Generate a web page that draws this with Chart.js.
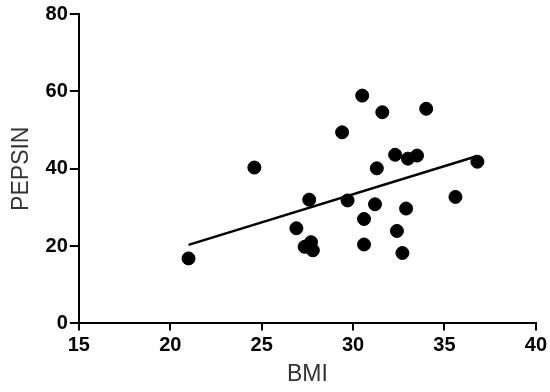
<!DOCTYPE html>
<html>
<head>
<meta charset="utf-8">
<script src="https://cdn.jsdelivr.net/npm/chart.js@4/dist/chart.umd.min.js"></script>
<style>
  html, body { margin: 0; padding: 0; background: #fff; }
  #wrap { width: 550px; height: 392px; }
</style>
</head>
<body>
<div id="wrap"><canvas id="c" width="550" height="392"></canvas></div>
<script>
// BMI vs PEPSIN
const bmi    = [21.0, 24.6, 26.9, 27.35, 27.7, 27.8, 27.6, 29.4, 29.7, 30.5, 30.6, 30.6, 31.2, 31.3, 31.6, 32.3, 32.4, 32.7, 32.9, 33.0, 33.5, 34.0, 35.6, 36.8];
const pepsin = [16.8, 40.3, 24.6, 19.8, 21.0, 18.9, 32.0, 49.4, 31.8, 58.9, 27.0, 20.4, 30.8, 40.1, 54.6, 43.6, 23.9, 18.2, 29.7, 42.6, 43.4, 55.5, 32.7, 41.8];
// regression line ends
const fitX = [21.0, 36.8];
const fitY = [20.3, 43.3];

const punkti = bmi.map((x, i) => ({ x: x, y: pepsin[i] }));
const premica = fitX.map((x, i) => ({ x: x, y: fitY[i] }));

const osFont = { family: 'Liberation Sans, Arial, sans-serif', size: 20, weight: 'bold' };
const naslovFont = { family: 'Liberation Sans, Arial, sans-serif', size: 23 };

new Chart(document.getElementById('c').getContext('2d'), {
    type: 'scatter',
    data: {
        datasets: [
            { data: punkti, backgroundColor: '#000', borderColor: '#000', pointRadius: 6.5, pointHoverRadius: 6.5 },
            { type: 'line', data: premica, showLine: true, borderColor: '#000', borderWidth: 2.5, pointRadius: 0, fill: false }
        ]
    },
    options: {
        responsive: false,
        animation: false,
        layout: { padding: { top: 8, right: 3, left: 8, bottom: 4 } },
        plugins: { legend: { display: false }, tooltip: { enabled: false } },
        scales: {
            x: {
                type: 'linear', min: 15, max: 40,
                ticks: { stepSize: 5, color: '#000', font: osFont, padding: 3 },
                grid: { drawOnChartArea: false, drawTicks: true, tickLength: 7, color: '#000', lineWidth: 2 },
                border: { color: '#000', width: 2 },
                title: { display: true, text: 'BMI', color: '#333', font: naslovFont, padding: { top: 0, bottom: 0 } }
            },
            y: {
                min: 0, max: 80,
                ticks: { stepSize: 20, color: '#000', font: osFont, padding: 2 },
                grid: { drawOnChartArea: false, drawTicks: true, tickLength: 9, color: '#000', lineWidth: 2 },
                border: { color: '#000', width: 2 },
                title: { display: true, text: 'PEPSIN', color: '#333', font: naslovFont, padding: { top: 0, bottom: 8 } }
            }
        }
    }
});
</script>
</body>
</html>
